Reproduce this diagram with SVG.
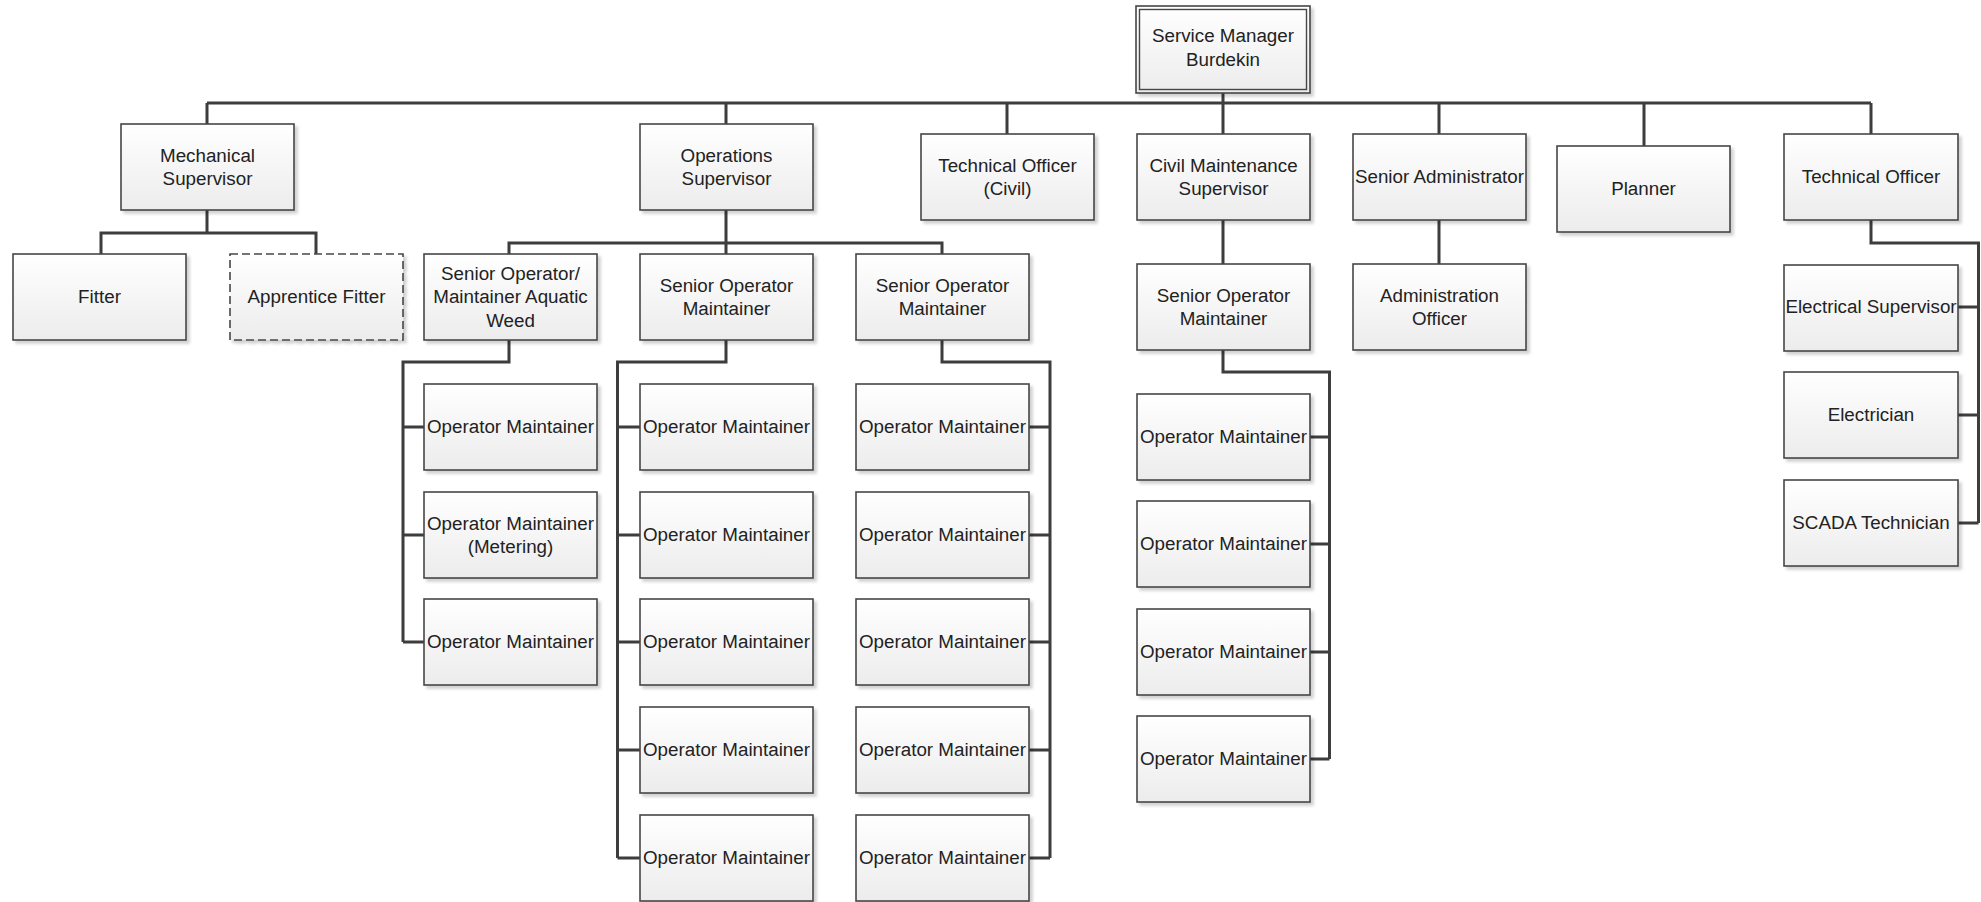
<svg xmlns="http://www.w3.org/2000/svg" width="1981" height="902" viewBox="0 0 1981 902">
<defs>
<linearGradient id="g" x1="0" y1="0" x2="0" y2="1">
<stop offset="0" stop-color="#ffffff"/>
<stop offset="1" stop-color="#ececec"/>
</linearGradient>
<filter id="sh" x="-10%" y="-10%" width="130%" height="130%">
<feDropShadow dx="3" dy="3" stdDeviation="1.5" flood-color="#000" flood-opacity="0.18"/>
</filter>
</defs>
<style>
.b{fill:url(#g);stroke:#474747;stroke-width:1.6;filter:url(#sh)}
.d{stroke-dasharray:8,4}
.in{fill:none;stroke:#474747;stroke-width:1.4}
text{font-family:"Liberation Sans",Arial,sans-serif;font-size:18.8px;fill:#222;text-anchor:middle}
.c{fill:none;stroke:#3d3d3d;stroke-width:3;stroke-linejoin:miter;stroke-linecap:butt}
</style>
<rect width="1981" height="902" fill="#fff"/>
<g id="connectors">
<path class="c" d="M1223,93V103M207,103H1871M207,103V124M726,103V124M1007,103V134M1223,103V134M1439,103V134M1644,103V146M1871,103V134"/>
<path class="c" d="M207,210V233M101,254V233H316V254"/>
<path class="c" d="M726,210V254M509,254V243H942V254"/>
<path class="c" d="M509,340V362H403V642M403,427H424M403,535H424M403,642H424"/>
<path class="c" d="M726,340V362H617.5V858M617.5,427H640M617.5,535H640M617.5,642H640M617.5,750H640M617.5,858H640"/>
<path class="c" d="M942,340V362H1050V858M1029,427H1050M1029,535H1050M1029,642H1050M1029,750H1050M1029,858H1050"/>
<path class="c" d="M1223,220V264M1223,350V372H1329.5V759M1310,437H1329.5M1310,544H1329.5M1310,652H1329.5M1310,759H1329.5"/>
<path class="c" d="M1439,220V264"/>
<path class="c" d="M1871,220V243H1978.5V523M1958,307H1978.5M1958,415H1978.5M1958,523H1978.5"/>
</g>
<g id="n-service-manager">
<rect class="b" x="1136" y="6" width="174" height="87"/>
<rect class="in" x="1139.5" y="9.5" width="167" height="80"/>
<text x="1223" y="42">Service Manager</text>
<text x="1223" y="65.5">Burdekin</text>
</g>
<g id="n-mech"><rect class="b" x="121" y="124" width="173" height="86"/><text x="207.5" y="161.5">Mechanical</text><text x="207.5" y="185">Supervisor</text></g>
<g id="n-fitter"><rect class="b" x="13" y="254" width="173" height="86"/><text x="99.5" y="303">Fitter</text></g>
<g id="n-apprentice"><rect class="b d" x="230" y="254" width="173" height="86"/><text x="316.5" y="303">Apprentice Fitter</text></g>
<g id="n-ops"><rect class="b" x="640" y="124" width="173" height="86"/><text x="726.5" y="161.5">Operations</text><text x="726.5" y="185">Supervisor</text></g>
<g id="n-tech-civil"><rect class="b" x="921" y="134" width="173" height="86"/><text x="1007.5" y="171.5">Technical Officer</text><text x="1007.5" y="195">(Civil)</text></g>
<g id="n-civil"><rect class="b" x="1137" y="134" width="173" height="86"/><text x="1223.5" y="171.5">Civil Maintenance</text><text x="1223.5" y="195">Supervisor</text></g>
<g id="n-senior-admin"><rect class="b" x="1353" y="134" width="173" height="86"/><text x="1439.5" y="183">Senior Administrator</text></g>
<g id="n-planner"><rect class="b" x="1557" y="146" width="173" height="86"/><text x="1643.5" y="195">Planner</text></g>
<g id="n-tech"><rect class="b" x="1784" y="134" width="174" height="86"/><text x="1871" y="183">Technical Officer</text></g>
<g id="n-aquatic"><rect class="b" x="424" y="254" width="173" height="86"/><text x="510.5" y="279.5">Senior Operator/</text><text x="510.5" y="303">Maintainer Aquatic</text><text x="510.5" y="326.5">Weed</text></g>
<g id="n-som2"><rect class="b" x="640" y="254" width="173" height="86"/><text x="726.5" y="291.5">Senior Operator</text><text x="726.5" y="315">Maintainer</text></g>
<g id="n-som3"><rect class="b" x="856" y="254" width="173" height="86"/><text x="942.5" y="291.5">Senior Operator</text><text x="942.5" y="315">Maintainer</text></g>
<g id="n-c1-1"><rect class="b" x="424" y="384" width="173" height="86"/><text x="510.5" y="433">Operator Maintainer</text></g>
<g id="n-c1-2"><rect class="b" x="424" y="492" width="173" height="86"/><text x="510.5" y="529.5">Operator Maintainer</text><text x="510.5" y="553">(Metering)</text></g>
<g id="n-c1-3"><rect class="b" x="424" y="599" width="173" height="86"/><text x="510.5" y="648">Operator Maintainer</text></g>
<g id="n-c2-1"><rect class="b" x="640" y="384" width="173" height="86"/><text x="726.5" y="433">Operator Maintainer</text></g>
<g id="n-c2-2"><rect class="b" x="640" y="492" width="173" height="86"/><text x="726.5" y="541">Operator Maintainer</text></g>
<g id="n-c2-3"><rect class="b" x="640" y="599" width="173" height="86"/><text x="726.5" y="648">Operator Maintainer</text></g>
<g id="n-c2-4"><rect class="b" x="640" y="707" width="173" height="86"/><text x="726.5" y="756">Operator Maintainer</text></g>
<g id="n-c2-5"><rect class="b" x="640" y="815" width="173" height="86"/><text x="726.5" y="864">Operator Maintainer</text></g>
<g id="n-c3-1"><rect class="b" x="856" y="384" width="173" height="86"/><text x="942.5" y="433">Operator Maintainer</text></g>
<g id="n-c3-2"><rect class="b" x="856" y="492" width="173" height="86"/><text x="942.5" y="541">Operator Maintainer</text></g>
<g id="n-c3-3"><rect class="b" x="856" y="599" width="173" height="86"/><text x="942.5" y="648">Operator Maintainer</text></g>
<g id="n-c3-4"><rect class="b" x="856" y="707" width="173" height="86"/><text x="942.5" y="756">Operator Maintainer</text></g>
<g id="n-c3-5"><rect class="b" x="856" y="815" width="173" height="86"/><text x="942.5" y="864">Operator Maintainer</text></g>
<g id="n-civil-som"><rect class="b" x="1137" y="264" width="173" height="86"/><text x="1223.5" y="301.5">Senior Operator</text><text x="1223.5" y="325">Maintainer</text></g>
<g id="n-admin-officer"><rect class="b" x="1353" y="264" width="173" height="86"/><text x="1439.5" y="301.5">Administration</text><text x="1439.5" y="325">Officer</text></g>
<g id="n-c4-1"><rect class="b" x="1137" y="394" width="173" height="86"/><text x="1223.5" y="443">Operator Maintainer</text></g>
<g id="n-c4-2"><rect class="b" x="1137" y="501" width="173" height="86"/><text x="1223.5" y="550">Operator Maintainer</text></g>
<g id="n-c4-3"><rect class="b" x="1137" y="609" width="173" height="86"/><text x="1223.5" y="658">Operator Maintainer</text></g>
<g id="n-c4-4"><rect class="b" x="1137" y="716" width="173" height="86"/><text x="1223.5" y="765">Operator Maintainer</text></g>
<g id="n-elec-sup"><rect class="b" x="1784" y="265" width="174" height="86"/><text x="1871" y="313">Electrical Supervisor</text></g>
<g id="n-electrician"><rect class="b" x="1784" y="372" width="174" height="86"/><text x="1871" y="421">Electrician</text></g>
<g id="n-scada"><rect class="b" x="1784" y="480" width="174" height="86"/><text x="1871" y="529">SCADA Technician</text></g>
</svg>
